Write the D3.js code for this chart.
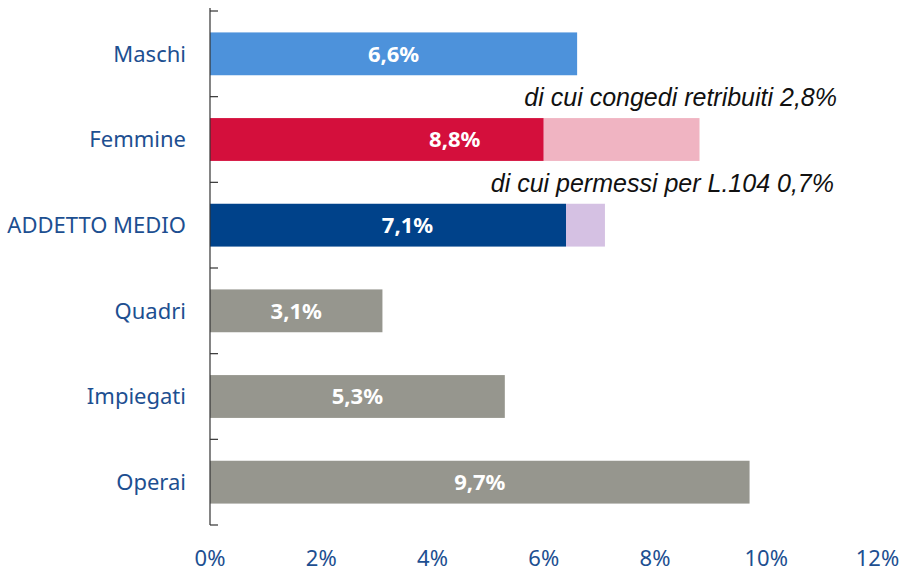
<!DOCTYPE html>
<html>
<head>
<meta charset="utf-8">
<script src="https://cdn.jsdelivr.net/npm/d3@7"></script>
<style>
  body { margin: 0; background: #fff; }
  svg { display: block; }
</style>
</head>
<body>
<svg id="chart" width="903" height="573"></svg>
<script>
// Absence rates by group (percent)
const categories = ["Maschi", "Femmine", "ADDETTO MEDIO", "Quadri", "Impiegati", "Operai"];
const totals = [6.6, 8.8, 7.1, 3.1, 5.3, 9.7];
// portion of the total shown as a lighter segment (0 = none)
const subParts = [0, 2.8, 0.7, 0, 0, 0];
const subLabels = ["", "di cui congedi retribuiti 2,8%", "di cui permessi per L.104 0,7%", "", "", ""];
const mainColors = ["#4d92db", "#d40f3c", "#00428a", "#96968e", "#96968e", "#96968e"];
const subColors = ["", "#f0b4c2", "#d5c1e3", "", "", ""];
const xTicks = [0, 2, 4, 6, 8, 10, 12];

const svg = d3.select("#chart");
const x = d3.scaleLinear().domain([0, 12]).range([210, 877.5]);
const y = d3.scaleBand().domain(categories).range([11, 525]).paddingInner(0.5).paddingOuter(0.25);

const rows = categories.map((c, i) => ({
  cat: c, total: totals[i], sub: subParts[i], main: totals[i] - subParts[i],
  c1: mainColors[i], c2: subColors[i], note: subLabels[i]
}));

// main segment
svg.selectAll("rect.main").data(rows).join("rect")
  .attr("class", "main")
  .attr("x", x(0))
  .attr("y", d => y(d.cat))
  .attr("width", d => x(d.main) - x(0))
  .attr("height", y.bandwidth())
  .attr("fill", d => d.c1);

// lighter sub-segment
svg.selectAll("rect.sub").data(rows.filter(d => d.sub > 0)).join("rect")
  .attr("class", "sub")
  .attr("x", d => x(d.main))
  .attr("y", d => y(d.cat))
  .attr("width", d => x(d.total) - x(d.main))
  .attr("height", y.bandwidth())
  .attr("fill", d => d.c2);

// value labels
const fmt = v => v.toFixed(1).replace(".", ",") + "%";
svg.selectAll("text.val").data(rows).join("text")
  .attr("class", "val")
  .attr("x", d => (x(0) + x(d.total)) / 2)
  .attr("y", d => y(d.cat) + y.bandwidth() / 2)
  .attr("dy", "0.36em")
  .attr("text-anchor", "middle")
  .attr("fill", "#fff")
  .attr("font-family", "'Noto Sans', sans-serif")
  .attr("font-weight", "bold")
  .attr("font-size", 22)
  .text(d => fmt(d.total));

// annotations above split bars, right edge a little left of the 12% mark
svg.selectAll("text.note").data(rows.filter(d => d.note)).join("text")
  .attr("class", "note")
  .attr("x", (d, i) => i === 0 ? 837 : 834)
  .attr("y", d => y(d.cat) - 12)
  .attr("text-anchor", "end")
  .attr("fill", "#111")
  .attr("font-family", "'Liberation Sans', Arial, sans-serif")
  .attr("font-style", "italic")
  .attr("font-size", 25)
  .text(d => d.note);

// category labels
svg.selectAll("text.cat").data(rows).join("text")
  .attr("class", "cat")
  .attr("x", 186)
  .attr("y", d => y(d.cat) + y.bandwidth() / 2)
  .attr("dy", "0.36em")
  .attr("text-anchor", "end")
  .attr("fill", "#1d4f91")
  .attr("font-family", "'Noto Sans', sans-serif")
  .attr("font-size", 22)
  .text(d => d.cat);

// vertical axis line with ticks at band boundaries
const axisG = svg.append("g").attr("stroke", "#333").attr("stroke-width", 1.2);
axisG.append("line").attr("x1", x(0)).attr("x2", x(0)).attr("y1", 8).attr("y2", 525);
const bounds = d3.range(categories.length + 1).map(i => 11 + i * y.step());
axisG.selectAll("line.tk").data(bounds).join("line")
  .attr("class", "tk")
  .attr("x1", x(0)).attr("x2", x(0) + 8)
  .attr("y1", d => d).attr("y2", d => d);

// x tick labels
svg.selectAll("text.xt").data(xTicks).join("text")
  .attr("class", "xt")
  .attr("x", d => x(d))
  .attr("y", 566)
  .attr("text-anchor", "middle")
  .attr("fill", "#1d4f91")
  .attr("font-family", "'Noto Sans', sans-serif")
  .attr("font-size", 22)
  .text(d => d + "%");
</script>
</body>
</html>
